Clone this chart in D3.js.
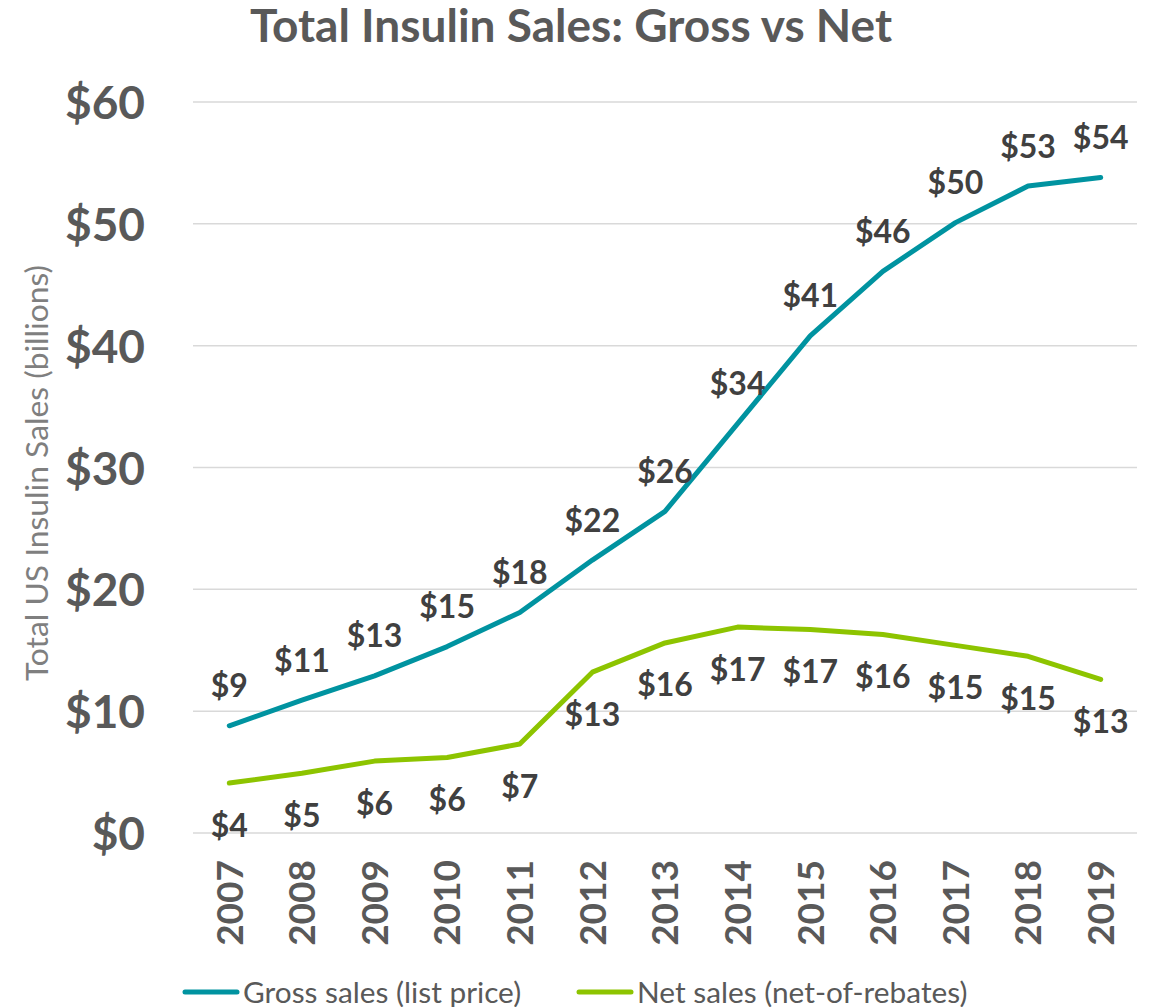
<!DOCTYPE html>
<html>
<head>
<meta charset="utf-8">
<script src="https://cdn.jsdelivr.net/npm/d3@7"></script>
<style>
  html, body { margin: 0; padding: 0; background: #fff; }
  svg { display: block; }
  text { font-family: Lato, "Open Sans", sans-serif; }
</style>
</head>
<body>
<svg id="chart" width="1153" height="1007"></svg>
<script>
const years = ["2007","2008","2009","2010","2011","2012","2013","2014","2015","2016","2017","2018","2019"];
const grossSales = [8.8, 10.9, 12.9, 15.3, 18.1, 22.4, 26.4, 33.6, 40.8, 46.1, 50.1, 53.1, 53.8];
const netSales = [4.1, 4.9, 5.9, 6.2, 7.3, 13.2, 15.6, 16.9, 16.7, 16.3, 15.4, 14.5, 12.6];
const yTicks = [0, 10, 20, 30, 40, 50, 60];
const seriesNames = ["Gross sales (list price)", "Net sales (net-of-rebates)"];
const seriesColors = ["#0093A0", "#8DC400"];

const svg = d3.select("#chart");
const plotLeft = 193, plotRight = 1137, plotTop = 102, plotBottom = 833;

const x = d3.scaleBand().domain(years).range([plotLeft, plotRight]).padding(0);
const y = d3.scaleLinear().domain([0, 60]).range([plotBottom, plotTop]);
const cx = d => x(d) + x.bandwidth() / 2;

// Title
svg.append("text")
  .attr("x", 571).attr("y", 42)
  .attr("text-anchor", "middle")
  .attr("font-size", 46).attr("font-weight", 700)
  .attr("fill", "#595959")
  .text("Total Insulin Sales: Gross vs Net");

// Gridlines
svg.append("g").selectAll("line").data(yTicks).join("line")
  .attr("x1", plotLeft).attr("x2", plotRight)
  .attr("y1", d => y(d)).attr("y2", d => y(d))
  .attr("stroke", "#d9d9d9").attr("stroke-width", 1.5);

// Y axis
const yAxis = d3.axisLeft(y).tickValues(yTicks).tickFormat(d => "$" + d).tickSize(0).tickPadding(0);
const gy = svg.append("g").attr("transform", `translate(145,0)`).call(yAxis);
gy.select(".domain").remove();
gy.selectAll("text")
  .attr("font-size", 46).attr("font-weight", 700).attr("fill", "#595959")
  .attr("font-family", "Lato, sans-serif")
  .attr("dy", "0.36em");

// Y axis title
svg.append("text")
  .attr("transform", `translate(48,${473}) rotate(-90)`)
  .attr("text-anchor", "middle")
  .attr("font-size", 31.8).attr("fill", "#7f7f7f")
  .text("Total US Insulin Sales (billions)");

// X axis
const xAxis = d3.axisBottom(x).tickSize(0).tickPadding(0);
const gx = svg.append("g").attr("transform", `translate(0,${plotBottom})`).call(xAxis);
gx.select(".domain").remove();
gx.selectAll(".tick text")
  .attr("font-size", 37).attr("font-weight", 700).attr("fill", "#595959")
  .attr("font-family", "Lato, sans-serif")
  .attr("text-anchor", "end")
  .attr("transform", "rotate(-90)")
  .attr("x", -27).attr("y", 0).attr("dy", "0.36em");

// Lines
const line = d3.line().x((d, i) => cx(years[i])).y(d => y(d));
[grossSales, netSales].forEach((vals, k) => {
  svg.append("path").datum(vals)
    .attr("d", line)
    .attr("fill", "none")
    .attr("stroke", seriesColors[k])
    .attr("stroke-width", 5)
    .attr("stroke-linejoin", "round")
    .attr("stroke-linecap", "round");
});

// Data labels
svg.append("g").selectAll("text").data(grossSales).join("text")
  .attr("x", (d, i) => cx(years[i]))
  .attr("y", d => y(d) - 40)
  .attr("dy", "0.36em")
  .attr("text-anchor", "middle")
  .attr("font-size", 32).attr("font-weight", 700).attr("fill", "#404040")
  .text(d => "$" + Math.round(d));

svg.append("g").selectAll("text").data(netSales).join("text")
  .attr("x", (d, i) => cx(years[i]))
  .attr("y", d => y(d) + 42)
  .attr("dy", "0.36em")
  .attr("text-anchor", "middle")
  .attr("font-size", 32).attr("font-weight", 700).attr("fill", "#404040")
  .text(d => "$" + Math.round(d));

// Legend
const legendItems = [{x: 185, name: seriesNames[0], color: seriesColors[0]}, {x: 579, name: seriesNames[1], color: seriesColors[1]}];
const lg = svg.append("g").selectAll("g").data(legendItems).join("g")
  .attr("transform", d => `translate(${d.x},992)`);
lg.append("line").attr("x1", 0).attr("x2", 52).attr("y1", 0).attr("y2", 0)
  .attr("stroke", d => d.color).attr("stroke-width", 5).attr("stroke-linecap", "round");
lg.append("text").attr("x", 58).attr("y", 0).attr("dy", "0.36em")
  .attr("font-size", 29.8).attr("fill", "#595959")
  .text(d => d.name);
</script>
</body>
</html>
